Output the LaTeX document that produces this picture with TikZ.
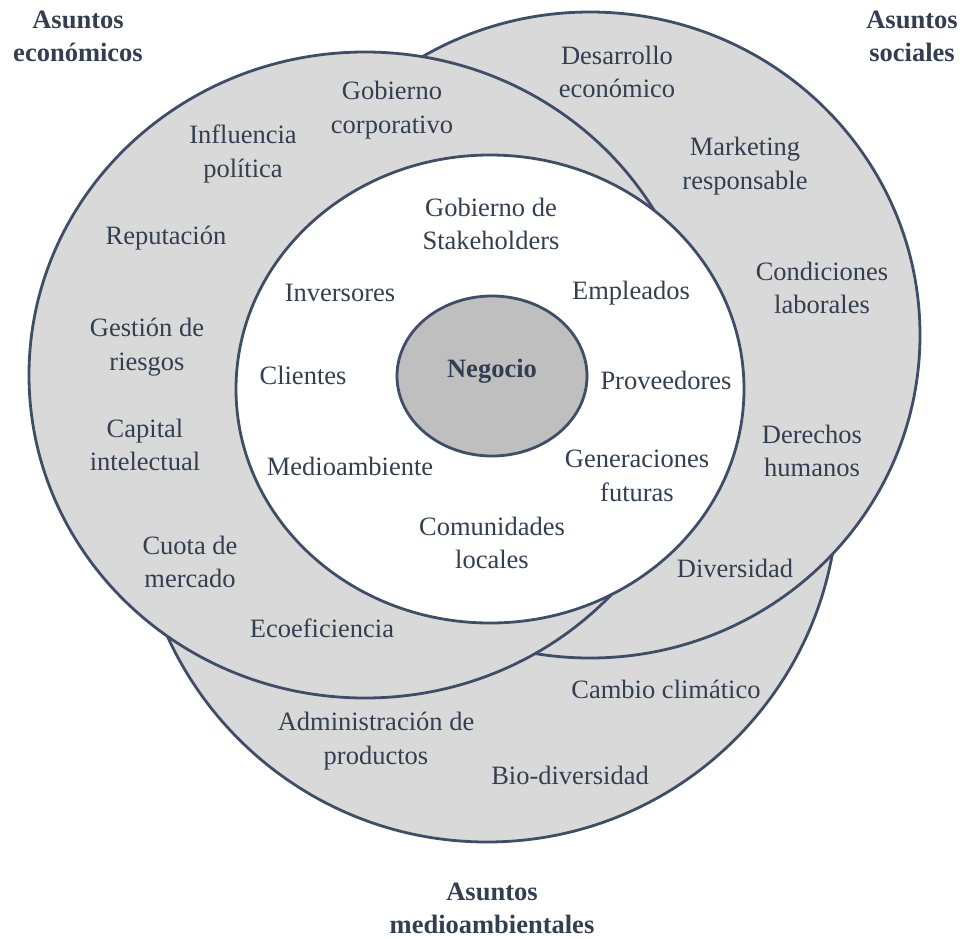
\documentclass[tikz,border=0pt]{standalone}
\usepackage{fontspec}
\setmainfont{Liberation Serif}
\definecolor{txt}{HTML}{333F50}
\definecolor{edge}{HTML}{3F4E66}
\definecolor{ringfill}{HTML}{D9D9D9}
\definecolor{corefill}{HTML}{BFBFBF}
\begin{document}
\begin{tikzpicture}[x=1pt,y=-1pt,
  ring/.style={draw=edge,line width=2.8pt,fill=ringfill},
  lbl/.style={text=txt,align=center,font=\fontsize{26.5}{33.5}\selectfont,inner sep=0pt},
  ttl/.style={text=txt,align=center,font=\fontsize{26.5}{33}\selectfont\bfseries,inner sep=0pt}]
\useasboundingbox (0,0) rectangle (962,938);
% circles
\draw[ring] (487,491) circle [radius=351];
\draw[ring] (590,335) ellipse [x radius=330,y radius=323];
\draw[ring] (365,375) ellipse [x radius=336,y radius=323];
\draw[draw=edge,line width=2.8pt,fill=white] (490,389) ellipse [x radius=254,y radius=234];
\draw[ring,fill=corefill] (492,376) ellipse [x radius=95,y radius=80];
% titles
\node[ttl] (tecon) at (78,36) {Asuntos\\económicos};
\node[ttl] (tsoc) at (912,36) {Asuntos\\sociales};
\node[ttl] (tenv) at (492,908) {Asuntos\\medioambientales};
% economic
\node[lbl] (gobcorp) at (392,110) {Gobierno\\corporativo};
\node[lbl] (influ) at (243,154) {Influencia\\política};
\node[lbl] (reput) at (166,238) {Reputación};
\node[lbl] (riesgo) at (147,347) {Gestión de\\riesgos};
\node[lbl] (capital) at (145,445) {Capital\\intelectual};
\node[lbl] (cuota) at (190,562) {Cuota de\\mercado};
\node[lbl] (ecoef) at (322,628) {Ecoeficiencia};
% environmental
\node[lbl] (admin) at (376,741) {Administración de\\productos};
\node[lbl] (biodiv) at (570,775) {Bio-diversidad};
\node[lbl] (clima) at (666,689) {Cambio climático};
% social
\node[lbl] (divers) at (735,568) {Diversidad};
\node[lbl] (derech) at (812,451) {Derechos\\humanos};
\node[lbl] (condic) at (822,288) {Condiciones\\laborales};
\node[lbl] (market) at (745,166) {Marketing\\responsable};
\node[lbl] (desarr) at (617,72) {Desarrollo\\económico};
% stakeholders
\node[lbl] (gobstk) at (491,224) {Gobierno de\\Stakeholders};
\node[lbl] (invers) at (340,293) {Inversores};
\node[lbl] (emple) at (631,293) {Empleados};
\node[lbl] (client) at (303,375) {Clientes};
\node[lbl] (provee) at (666,380) {Proveedores};
\node[lbl] (medio) at (350,466) {Medioambiente};
\node[lbl] (generac) at (637,476) {Generaciones\\futuras};
\node[lbl] (comun) at (492,543) {Comunidades\\locales};
% core
\node[ttl] (negocio) at (492,371) {Negocio};
\end{tikzpicture}
\end{document}
